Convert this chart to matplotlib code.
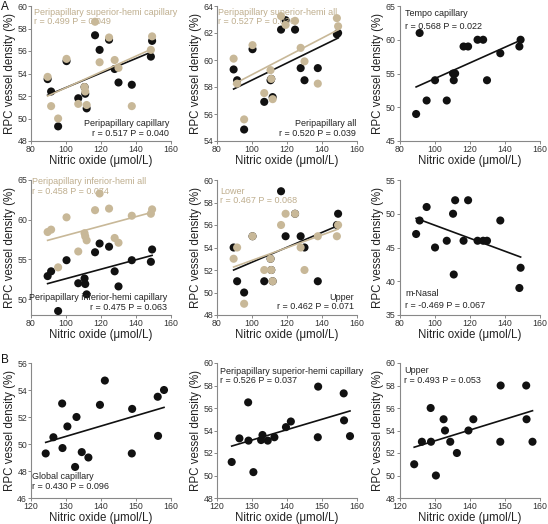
import numpy as np
import matplotlib
matplotlib.use("Agg")
import matplotlib.pyplot as plt

plt.rcParams['font.family'] = ['Liberation Sans', 'DejaVu Sans']

# --- data ---
no_a = [89.5, 91.5, 95.5, 100.3, 107.0, 110.6, 111.0, 111.8,
        116.6, 119.2, 124.6, 127.8, 130.0, 137.6, 148.5, 149.2]
no_b = [124.2, 126.4, 128.9, 129.0, 130.4, 132.6, 133.0, 134.5,
        136.4, 139.7, 141.1, 148.8, 148.9, 156.2, 156.3, 158.0]

peri_cap = [53.5, 52.4, 49.3, 55.1, 51.8, 52.8, 52.2, 50.9,
            57.4, 56.1, 57.0, 54.4, 53.2, 53.0, 55.5, 56.9]
sup_cap = [53.7, 51.1, 50.0, 55.3, 51.3, 52.8, 52.4, 51.2,
           58.6, 55.0, 57.2, 55.2, 54.5, 51.1, 56.1, 57.3]

peri_all = [59.3, 58.5, 54.85, 60.8, 56.9, 58.5, 58.6, 57.25,
            62.25, 62.95, 62.25, 59.4, 58.5, 59.4, 61.9, 62.0]
sup_all = [60.1, 58.25, 55.6, 61.1, 57.55, 59.25, 58.6, 57.1,
           63.25, 62.6, 62.9, 60.9, 59.9, 58.25, 63.1, 62.5]

tempo_cap = [49, 61, 51, 54, 51, 55, 54, 55, 59, 59, 60, 60, 54, 58, 59, 60]

inf_cap = [52.9, 53.5, 48.5, 54.9, 52.0, 52.6, 51.9, 50.6,
           55.9, 57.0, 56.6, 53.5, 51.6, 54.9, 54.7, 56.25]
inf_all = [58.45, 58.75, 54.0, 60.3, 56.0, 58.3, 57.9, 57.4,
           61.2, 63.3, 61.4, 57.7, 57.1, 60.5, 60.75, 61.3]

upper_a = [54, 51, 50, 55, 51, 53, 52, 51, 59, 55, 57, 55, 54, 51, 56, 57]
lower_a = [53, 54, 49, 55, 52, 53, 52, 51, 56, 57, 57, 54, 52, 55, 55, 56]

nasal = [47, 49, 51, 45, 46, 50, 41, 52, 46, 52, 46, 46, 46, 49, 39, 42]

global_cap = [49.3, 50.5, 53.0, 49.7, 51.3, 48.3, 52.0, 49.4,
              49.0, 52.9, 54.7, 49.3, 52.6, 53.5, 50.6, 54.0]
sup_cap_b = [51.2, 53.3, 56.5, 53.1, 50.3, 53.15, 53.6, 53.1,
             53.4, 54.3, 54.8, 53.4, 57.9, 57.3, 54.9, 53.5]
upper_b = [51, 53, 56, 53, 50, 55, 54, 53, 52, 54, 55, 53, 58, 58, 55, 53]

BLACK = '#111111'
BEIGE = '#c8b898'
BEIGE_TXT = '#bfae8e'
W, H = 548, 524


def make_ax(left, top, width=140, height=135):
    ax = fig.add_axes([left / W, 1 - (top + height) / H, width / W, height / H])
    for s in ['top', 'right']:
        ax.spines[s].set_visible(False)
    for s in ['left', 'bottom']:
        ax.spines[s].set_color('#888888')
        ax.spines[s].set_linewidth(0.8)
    ax.tick_params(direction='out', length=2, width=0.7, color='#888888',
                   labelsize=6.3, labelcolor='#333333', pad=0.8)
    ax.set_xlabel('Nitric oxide (μmol/L)', fontsize=8.3, color='#222222', labelpad=0.5)
    ax.set_ylabel('RPC vessel density (%)', fontsize=8.3, color='#222222', labelpad=1)
    return ax


def scatter_fit(ax, x, y, color, z=3):
    x = np.asarray(x)
    y = np.asarray(y)
    ax.scatter(x, y, s=34, color=color, edgecolors='none', zorder=z)
    k, b = np.polyfit(x, y, 1)
    xs = np.array([x.min(), x.max()])
    ax.plot(xs, k * xs + b, color=color, lw=1.2, zorder=z - 1)


fig = plt.figure(figsize=(W / 100, H / 100), dpi=100)

cols = [31, 217, 399.5]
rows = [6, 180, 363]

# Row 1
ax = make_ax(cols[0], rows[0])
scatter_fit(ax, no_a, peri_cap, BLACK, 3)
scatter_fit(ax, no_a, sup_cap, BEIGE, 5)
ax.set_xlim(80, 160); ax.set_ylim(48, 60)
ax.set_xticks(range(80, 161, 20)); ax.set_yticks(range(48, 61, 2))
ax.text(0.02, 0.985, 'Peripapillary superior-hemi capillary\nr = 0.499 P = 0.049',
        transform=ax.transAxes, fontsize=6.5, color=BEIGE_TXT, va='top', ha='left',
        linespacing=1.05, clip_on=False)
ax.text(0.985, 0.025, 'Peripapillary capillary\nr = 0.517 P = 0.040',
        transform=ax.transAxes, fontsize=6.5, color='#222222', va='bottom', ha='right',
        multialignment='right', linespacing=1.05)

ax = make_ax(cols[1], rows[0])
scatter_fit(ax, no_a, peri_all, BLACK, 3)
scatter_fit(ax, no_a, sup_all, BEIGE, 5)
ax.set_xlim(80, 160); ax.set_ylim(54, 64)
ax.set_xticks(range(80, 161, 20)); ax.set_yticks(range(54, 65, 2))
ax.text(0.01, 0.985, 'Peripapillary superior-hemi all\nr = 0.527 P = 0.036',
        transform=ax.transAxes, fontsize=6.5, color=BEIGE_TXT, va='top', ha='left',
        linespacing=1.05)
ax.text(0.995, 0.025, 'Peripapillary all\nr = 0.520 P = 0.039',
        transform=ax.transAxes, fontsize=6.5, color='#222222', va='bottom', ha='right',
        multialignment='right', linespacing=1.05)

ax = make_ax(cols[2], rows[0])
scatter_fit(ax, no_a, tempo_cap, BLACK, 3)
ax.set_xlim(80, 160); ax.set_ylim(45, 65)
ax.set_xticks(range(80, 161, 20)); ax.set_yticks(range(45, 66, 5))
ax.text(0.04, 0.975, 'Tempo capillary\nr = 0.568 P = 0.022',
        transform=ax.transAxes, fontsize=6.5, color='#222222', va='top', ha='left',
        linespacing=1.5)

# Row 2
ax = make_ax(cols[0], rows[1])
scatter_fit(ax, no_a, inf_cap, BLACK, 3)
scatter_fit(ax, no_a, inf_all, BEIGE, 5)
ax.set_xlim(80, 160); ax.set_ylim(48, 65)
ax.set_xticks(range(80, 161, 20)); ax.set_yticks(range(50, 66, 5))
ax.text(0.01, 1.02, 'Peripapillary inferior-hemi all\nr = 0.458 P = 0.074',
        transform=ax.transAxes, fontsize=6.5, color=BEIGE_TXT, va='top', ha='left',
        linespacing=1.05)
ax.text(0.97, 0.025, 'Peripapillary inferior-hemi capillary\nr = 0.475 P = 0.063',
        transform=ax.transAxes, fontsize=6.5, color='#222222', va='bottom', ha='right',
        multialignment='right', linespacing=1.05)

ax = make_ax(cols[1], rows[1])
scatter_fit(ax, no_a, upper_a, BLACK, 3)
scatter_fit(ax, no_a, lower_a, BEIGE, 5)
ax.set_xlim(80, 160); ax.set_ylim(48, 60)
ax.set_xticks(range(80, 161, 20)); ax.set_yticks(range(48, 61, 2))
ax.text(0.02, 0.95, 'Lower\nr = 0.467 P = 0.068',
        transform=ax.transAxes, fontsize=6.5, color=BEIGE_TXT, va='top', ha='left',
        linespacing=1.05)
ax.text(0.975, 0.03, 'Upper\nr = 0.462 P = 0.071',
        transform=ax.transAxes, fontsize=6.5, color='#222222', va='bottom', ha='right',
        multialignment='right', linespacing=1.05)

ax = make_ax(cols[2], rows[1])
scatter_fit(ax, no_a, nasal, BLACK, 3)
ax.set_xlim(80, 160); ax.set_ylim(35, 55)
ax.set_xticks(range(80, 161, 20)); ax.set_yticks(range(35, 56, 5))
ax.text(0.04, 0.035, 'm-Nasal\nr = -0.469 P = 0.067',
        transform=ax.transAxes, fontsize=6.5, color='#222222', va='bottom', ha='left',
        linespacing=1.5)

# Row 3 (B)
ax = make_ax(cols[0], rows[2], height=135)
scatter_fit(ax, no_b, global_cap, BLACK, 3)
ax.set_xlim(120, 160); ax.set_ylim(46, 56)
ax.set_xticks(range(120, 161, 10)); ax.set_yticks(range(46, 57, 2))
ax.text(0.01, 0.055, 'Global capillary\nr = 0.430 P = 0.096',
        transform=ax.transAxes, fontsize=6.5, color='#222222', va='bottom', ha='left',
        linespacing=1.05)

ax = make_ax(cols[1], rows[2], height=135)
scatter_fit(ax, no_b, sup_cap_b, BLACK, 3)
ax.set_xlim(120, 160); ax.set_ylim(48, 60)
ax.set_xticks(range(120, 161, 10)); ax.set_yticks(range(48, 61, 2))
ax.text(0.025, 0.97, 'Peripapillary superior-hemi capillary\nr = 0.526 P = 0.037',
        transform=ax.transAxes, fontsize=6.5, color='#222222', va='top', ha='left',
        linespacing=1.05)

ax = make_ax(cols[2], rows[2], height=135)
scatter_fit(ax, no_b, upper_b, BLACK, 3)
ax.set_xlim(120, 160); ax.set_ylim(48, 60)
ax.set_xticks(range(120, 161, 10)); ax.set_yticks(range(48, 61, 2))
ax.text(0.035, 0.975, 'Upper\nr = 0.493 P = 0.053',
        transform=ax.transAxes, fontsize=6.5, color='#222222', va='top', ha='left',
        linespacing=1.05)

fig.text(1 / W, 1 - 1 / H, 'A', fontsize=8.5, va='top', ha='left', color='#111111')
fig.text(1 / W, 1 - 354 / H, 'B', fontsize=8.5, va='top', ha='left', color='#111111')

fig.savefig('out.png', dpi=100)
